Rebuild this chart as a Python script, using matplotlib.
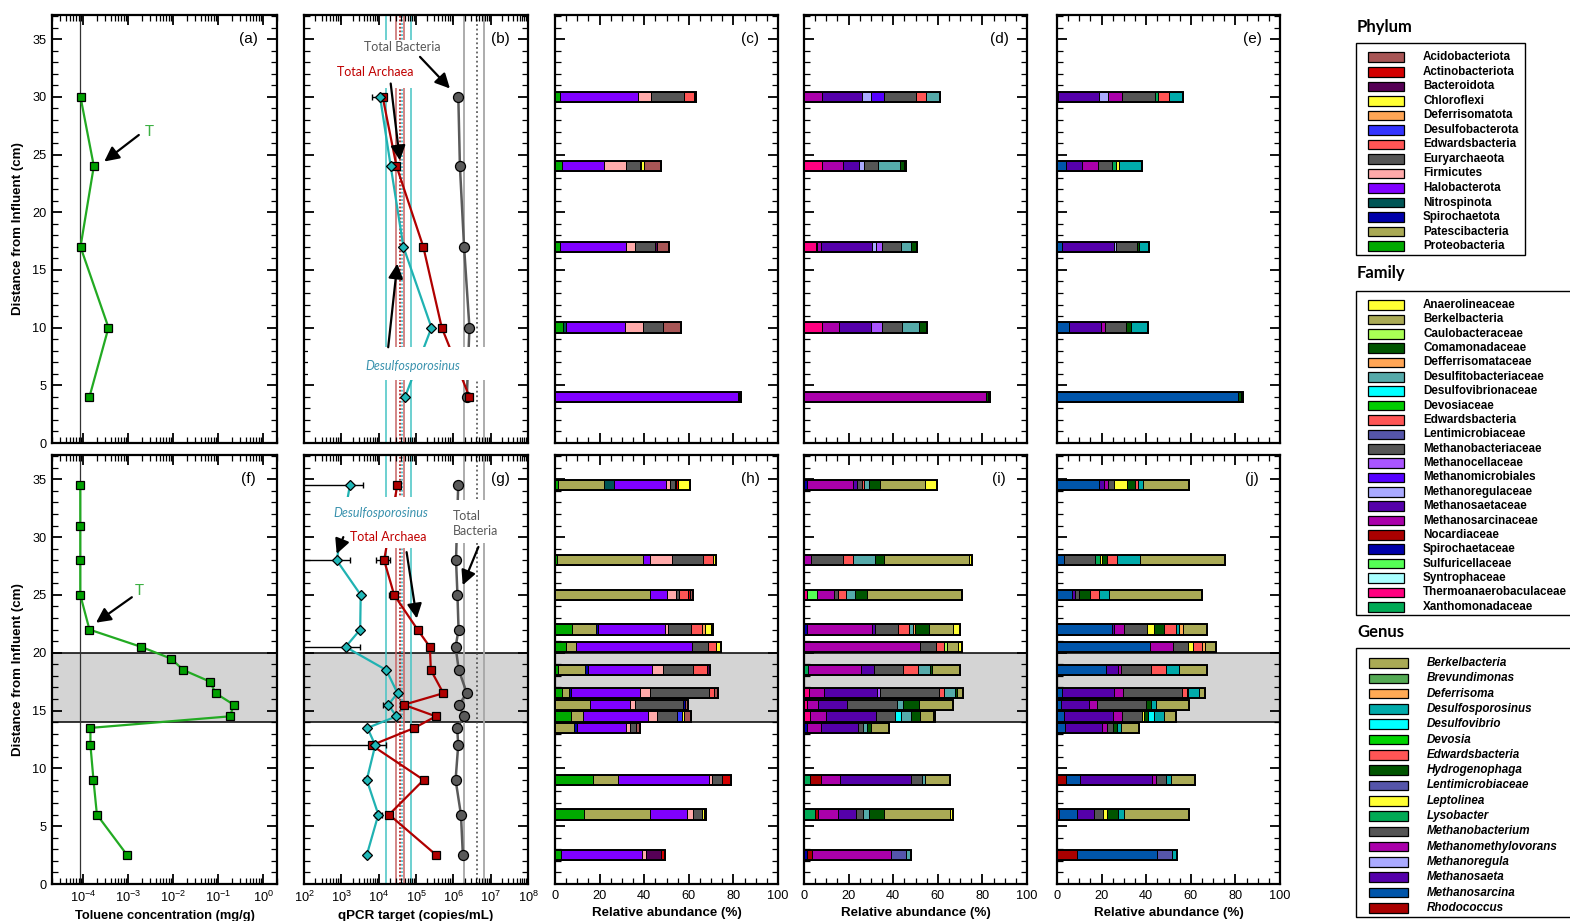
import numpy as np
import matplotlib
matplotlib.use("Agg")
import matplotlib.pyplot as plt
from matplotlib.patches import Rectangle
from matplotlib.ticker import MultipleLocator, LogLocator, NullFormatter

plt.rcParams['font.family'] = ['Liberation Sans', 'DejaVu Sans']
plt.rcParams['mathtext.default'] = 'regular'

# ---------------------------------------------------------------- data
# toluene (mg/g) profiles
tol_depth_top = [30, 24, 17, 10, 4]
tol_top = [8.6e-5, 1.7e-4, 8.6e-5, 3.6e-4, 1.36e-4]
tol_depth_bot = [34.5, 31, 28, 25, 22, 20.5, 19.5, 18.5, 17.5, 16.5, 15.5, 14.5,
                 13.5, 12, 9, 6, 2.5]
tol_bot = [8.5e-5, 8.5e-5, 8.5e-5, 8.5e-5, 1.36e-4, 1.94e-3, 8.7e-3, 1.67e-2, 6.5e-2,
           8.6e-2, 0.22, 0.18, 1.43e-4, 1.43e-4, 1.67e-4, 1.99e-4, 9.35e-4]
tol_detection = 8.5e-5

# qPCR (copies/mL)
qpcr_depth_top = [30, 24, 17, 10, 4]
bact_top = [1.36e6, 1.5e6, 1.94e6, 2.7e6, 2.3e6]
arch_top = [1.28e4, 3.0e4, 1.57e5, 4.9e5, 2.7e6]
desulf_top = [1.09e4, 2.1e4, 4.6e4, 2.6e5, 5.1e4]
desulf_err_top = [(30, 6.5e3, 1.33e4)]

qpcr_depth_bot = [34.5, 28, 25, 22, 20.5, 18.5, 16.5, 15.5, 14.5, 13.5, 12, 9, 6, 2.5]
bact_bot = [1.35e6, 1.18e6, 1.29e6, 1.38e6, 1.15e6, 1.4e6, 2.3e6, 1.4e6, 1.9e6,
            1.27e6, 1.35e6, 1.15e6, 1.6e6, 1.8e6]
arch_bot = [3.16e4, 1.4e4, 2.6e4, 1.1e5, 2.35e5, 2.5e5, 5.4e5, 4.7e4, 3.4e5, 9.1e4,
            6.5e3, 1.6e5, 1.9e4, 3.5e5]
desulf_bot = [1.7e3, 750, 3.3e3, 3.2e3, 1.3e3, 1.6e4, 3.2e4, 1.8e4, 3.0e4, 5e3,
              8.1e3, 4.8e3, 9.8e3, 4.8e3]
desulf_err_bot = [(34.5, 50, 3.7e3), (28, 50, 1.7e3), (20.5, 50, 3.2e3),
                  (15.5, 1.3e4, 2.2e4), (12, 50, 1.6e4), (9, 4.0e3, 5.6e3),
                  (6, 8.0e3, 1.2e4)]
arch_err_bot = [(28, 8.5e3, 2.0e4), (25, 1.9e4, 2.9e4), (15.5, 3.7e4, 5.6e4),
                (12, 5.5e3, 7.5e3)]

# influent reference levels (copies/mL)
desulf_ref = [1.55e4, 7.4e4]
desulf_ref_mean = 4.3e4
arch_ref = [2.9e4, 4.7e4]
arch_ref_mean = 3.7e4
bact_ref = [1.9e6, 6.6e6]
bact_ref_mean = 4.2e6

# legend taxa and colours
phylum_names = ['Acidobacteriota', 'Actinobacteriota', 'Bacteroidota', 'Chloroflexi',
                'Deferrisomatota', 'Desulfobacterota', 'Edwardsbacteria', 'Euryarchaeota',
                'Firmicutes', 'Halobacterota', 'Nitrospinota', 'Spirochaetota',
                'Patescibacteria', 'Proteobacteria']
phylum_colors = ['#A85656', '#D40000', '#550055', '#FFFF33', '#FFA555', '#3333FF',
                 '#FF5555', '#555555', '#FFAAAA', '#8000FF', '#005555', '#0000AA',
                 '#AAAA55', '#00AA00']
family_names = ['Anaerolineaceae', 'Berkelbacteria', 'Caulobacteraceae', 'Comamonadaceae',
                'Defferrisomataceae', 'Desulfitobacteriaceae', 'Desulfovibrionaceae',
                'Devosiaceae', 'Edwardsbacteria', 'Lentimicrobiaceae',
                'Methanobacteriaceae', 'Methanocellaceae', 'Methanomicrobiales',
                'Methanoregulaceae', 'Methanosaetaceae', 'Methanosarcinaceae',
                'Nocardiaceae', 'Spirochaetaceae', 'Sulfuricellaceae', 'Syntrophaceae',
                'Thermoanaerobaculaceae', 'Xanthomonadaceae']
family_colors = ['#FFFF33', '#AAAA55', '#AAFF55', '#005500', '#FFA555', '#55AAAA',
                 '#00FFFF', '#00CC00', '#FF5555', '#5555AA', '#555555', '#AA55FF',
                 '#5500FF', '#AAAAFF', '#5500AA', '#AA00AA', '#AA0000', '#0000AA',
                 '#55FF55', '#AAFFFF', '#FF0080', '#00AA55']
genus_names = ['Berkelbacteria', 'Brevundimonas', 'Deferrisoma', 'Desulfosporosinus',
               'Desulfovibrio', 'Devosia', 'Edwardsbacteria', 'Hydrogenophaga',
               'Lentimicrobiaceae', 'Leptolinea', 'Lysobacter', 'Methanobacterium',
               'Methanomethylovorans', 'Methanoregula', 'Methanosaeta', 'Methanosarcina',
               'Rhodococcus']
genus_colors = ['#AAAA55', '#55AA55', '#FFAA55', '#00AAAA', '#00FFFF', '#00D400',
                '#FF5555', '#005500', '#5555AA', '#FFFF33', '#00AA55', '#555555',
                '#AA00AA', '#AAAAFF', '#5500AA', '#0055AA', '#AA0000']

# relative abundance (%) per depth, stacked left to right
phylum_top = {
    30: [('Proteobacteria', 2.2), ('Halobacterota', 34.8), ('Firmicutes', 6.0),
         ('Euryarchaeota', 15.0), ('Edwardsbacteria', 4.5), ('Acidobacteriota', 0.7)],
    24: [('Proteobacteria', 3.3), ('Halobacterota', 18.7), ('Firmicutes', 9.9),
         ('Euryarchaeota', 6.3), ('Bacteroidota', 0.3), ('Chloroflexi', 1.4),
         ('Acidobacteriota', 7.8)],
    17: [('Proteobacteria', 2.2), ('Halobacterota', 29.6), ('Firmicutes', 4.2),
         ('Euryarchaeota', 9.0), ('Bacteroidota', 0.9), ('Acidobacteriota', 5.2)],
    10: [('Proteobacteria', 3.7), ('Nitrospinota', 1.2), ('Halobacterota', 26.6),
         ('Firmicutes', 7.9), ('Euryarchaeota', 9.1), ('Acidobacteriota', 8.2)],
    4: [('Halobacterota', 81.9), ('Acidobacteriota', 0.7), ('Bacteroidota', 0.7)],
}
family_top = {
    30: [('Methanosarcinaceae', 8.1), ('Methanosaetaceae', 18.1), ('Methanoregulaceae', 4.0),
         ('Methanomicrobiales', 5.5), ('Methanobacteriaceae', 14.6), ('Edwardsbacteria', 4.6),
         ('Desulfitobacteriaceae', 6.0)],
    24: [('Thermoanaerobaculaceae', 8.1), ('Methanosarcinaceae', 9.3), ('Methanosaetaceae', 7.2),
         ('Methanoregulaceae', 2.4), ('Methanobacteriaceae', 6.3),
         ('Desulfitobacteriaceae', 9.9), ('Comamonadaceae', 1.5), ('Anaerolineaceae', 1.2)],
    17: [('Thermoanaerobaculaceae', 5.2), ('Nocardiaceae', 0.7), ('Methanosarcinaceae', 1.5),
         ('Methanosaetaceae', 23.2), ('Methanoregulaceae', 1.6), ('Methanocellaceae', 2.7),
         ('Methanobacteriaceae', 8.8), ('Desulfitobacteriaceae', 4.5), ('Comamonadaceae', 2.5)],
    10: [('Thermoanaerobaculaceae', 8.1), ('Methanosarcinaceae', 7.6), ('Methanosaetaceae', 14.2),
         ('Methanocellaceae', 4.9), ('Methanobacteriaceae', 9.0),
         ('Desulfitobacteriaceae', 7.9), ('Comamonadaceae', 3.6)],
    4: [('Methanosarcinaceae', 81.5), ('Comamonadaceae', 0.9), ('Desulfitobacteriaceae', 1.0)],
}
genus_top = {
    30: [('Methanosarcina', 0.6), ('Methanosaeta', 18.4), ('Methanoregula', 3.9),
         ('Methanomethylovorans', 6.3), ('Methanobacterium', 14.8), ('Lysobacter', 1.5),
         ('Edwardsbacteria', 4.8), ('Desulfosporosinus', 6.0)],
    24: [('Methanosarcina', 4.0), ('Methanosaeta', 7.3), ('Methanomethylovorans', 7.2),
         ('Methanobacterium', 6.3), ('Lysobacter', 1.8), ('Leptolinea', 1.3),
         ('Desulfosporosinus', 10.0)],
    17: [('Methanosarcina', 2.1), ('Methanosaeta', 23.3), ('Methanoregula', 1.2),
         ('Methanobacterium', 9.1), ('Hydrogenophaga', 1.2), ('Desulfosporosinus', 4.3)],
    10: [('Methanosarcina', 5.4), ('Methanosaeta', 14.3), ('Methanomethylovorans', 1.9),
         ('Methanobacterium', 9.3), ('Hydrogenophaga', 2.1), ('Desulfosporosinus', 7.9)],
    4: [('Methanosarcina', 81.3), ('Hydrogenophaga', 1.2), ('Desulfosporosinus', 0.7)],
}
phylum_bot = {
    34.5: [('Proteobacteria', 1.5), ('Patescibacteria', 20.6), ('Nitrospinota', 4.5),
           ('Halobacterota', 23.0), ('Firmicutes', 1.9), ('Euryarchaeota', 2.1),
           ('Edwardsbacteria', 0.7), ('Actinobacteriota', 0.9), ('Chloroflexi', 5.2)],
    28: [('Proteobacteria', 1.0), ('Patescibacteria', 38.3), ('Halobacterota', 3.3),
         ('Firmicutes', 9.7), ('Euryarchaeota', 14.2), ('Edwardsbacteria', 4.5),
         ('Chloroflexi', 1.0)],
    25: [('Patescibacteria', 42.6), ('Halobacterota', 7.8), ('Firmicutes', 3.9),
         ('Euryarchaeota', 1.5), ('Edwardsbacteria', 3.9), ('Actinobacteriota', 0.9),
         ('Acidobacteriota', 1.2)],
    22: [('Proteobacteria', 7.5), ('Patescibacteria', 10.9), ('Spirochaetota', 1.0),
         ('Halobacterota', 29.9), ('Firmicutes', 1.3), ('Euryarchaeota', 10.5),
         ('Edwardsbacteria', 4.9), ('Deferrisomatota', 1.3), ('Chloroflexi', 2.7),
         ('Acidobacteriota', 0.9)],
    20.5: [('Proteobacteria', 4.8), ('Patescibacteria', 4.6), ('Halobacterota', 52.2),
           ('Euryarchaeota', 6.9), ('Edwardsbacteria', 3.7), ('Chloroflexi', 2.2)],
    18.5: [('Proteobacteria', 1.5), ('Patescibacteria', 12.0), ('Spirochaetota', 1.5),
           ('Halobacterota', 28.7), ('Firmicutes', 4.9), ('Euryarchaeota', 13.5),
           ('Edwardsbacteria', 6.0), ('Bacteroidota', 1.5)],
    16.5: [('Proteobacteria', 3.3), ('Patescibacteria', 3.0), ('Spirochaetota', 0.9),
           ('Halobacterota', 30.9), ('Firmicutes', 4.5), ('Euryarchaeota', 26.5),
           ('Edwardsbacteria', 2.1), ('Acidobacteriota', 2.1)],
    15.5: [('Patescibacteria', 15.7), ('Halobacterota', 17.9), ('Firmicutes', 2.1),
           ('Euryarchaeota', 21.8), ('Spirochaetota', 0.9), ('Acidobacteriota', 1.2)],
    14.5: [('Proteobacteria', 7.0), ('Patescibacteria', 5.7), ('Halobacterota', 29.0),
           ('Firmicutes', 4.2), ('Euryarchaeota', 8.7), ('Desulfobacterota', 2.5),
           ('Chloroflexi', 0.9), ('Acidobacteriota', 3.1)],
    13.5: [('Patescibacteria', 8.5), ('Spirochaetota', 1.2), ('Halobacterota', 22.3),
           ('Firmicutes', 1.6), ('Euryarchaeota', 2.7), ('Acidobacteriota', 1.8)],
    9: [('Proteobacteria', 16.9), ('Patescibacteria', 11.4), ('Halobacterota', 40.7),
        ('Firmicutes', 1.5), ('Euryarchaeota', 4.5), ('Actinobacteriota', 4.0)],
    6: [('Proteobacteria', 13.0), ('Patescibacteria', 29.6), ('Halobacterota', 16.7),
        ('Firmicutes', 2.7), ('Euryarchaeota', 3.7), ('Chloroflexi', 1.0),
        ('Acidobacteriota', 1.0)],
    2.5: [('Proteobacteria', 2.7), ('Halobacterota', 36.2), ('Firmicutes', 1.9),
          ('Bacteroidota', 6.9), ('Actinobacteriota', 1.6)],
}
family_bot = {
    34.5: [('Spirochaetaceae', 1.2), ('Methanosarcinaceae', 20.9), ('Methanosaetaceae', 1.8),
           ('Methanobacteriaceae', 2.1), ('Edwardsbacteria', 0.7),
           ('Desulfitobacteriaceae', 2.4), ('Comamonadaceae', 4.9), ('Berkelbacteria', 20.3),
           ('Anaerolineaceae', 5.4)],
    28: [('Methanosarcinaceae', 3.1), ('Methanobacteriaceae', 14.2), ('Edwardsbacteria', 4.8),
         ('Desulfitobacteriaceae', 9.6), ('Comamonadaceae', 4.2), ('Berkelbacteria', 38.3),
         ('Anaerolineaceae', 1.0)],
    25: [('Thermoanaerobaculaceae', 1.2), ('Sulfuricellaceae', 4.5), ('Methanosarcinaceae', 7.9),
         ('Methanobacteriaceae', 1.5), ('Edwardsbacteria', 3.7), ('Desulfitobacteriaceae', 4.0),
         ('Comamonadaceae', 5.5), ('Berkelbacteria', 42.3), ('Anaerolineaceae', 0.4)],
    22: [('Spirochaetaceae', 1.5), ('Methanosarcinaceae', 28.8), ('Methanosaetaceae', 1.5),
         ('Methanobacteriaceae', 10.3), ('Edwardsbacteria', 5.1),
         ('Desulfitobacteriaceae', 1.6), ('Defferrisomataceae', 1.0), ('Comamonadaceae', 6.1),
         ('Berkelbacteria', 10.9), ('Anaerolineaceae', 3.3)],
    20.5: [('Methanosarcinaceae', 52.0), ('Methanobacteriaceae', 7.2), ('Edwardsbacteria', 3.7),
           ('Caulobacteraceae', 1.2), ('Berkelbacteria', 4.9), ('Anaerolineaceae', 1.8)],
    18.5: [('Xanthomonadaceae', 1.8), ('Methanosarcinaceae', 23.8), ('Methanosaetaceae', 5.8),
           ('Methanobacteriaceae', 13.2), ('Edwardsbacteria', 6.3),
           ('Desulfitobacteriaceae', 5.7), ('Comamonadaceae', 1.0), ('Berkelbacteria', 12.4)],
    16.5: [('Thermoanaerobaculaceae', 2.4), ('Methanosarcinaceae', 6.6),
           ('Methanosaetaceae', 23.6), ('Methanocellaceae', 1.5), ('Methanobacteriaceae', 26.6),
           ('Edwardsbacteria', 2.1), ('Desulfitobacteriaceae', 4.8), ('Comamonadaceae', 0.9),
           ('Berkelbacteria', 3.0)],
    15.5: [('Thermoanaerobaculaceae', 1.2), ('Methanosarcinaceae', 5.2),
           ('Methanosaetaceae', 13.0), ('Methanobacteriaceae', 22.1),
           ('Desulfitobacteriaceae', 2.7), ('Comamonadaceae', 7.3), ('Berkelbacteria', 15.4)],
    14.5: [('Thermoanaerobaculaceae', 2.7), ('Methanosarcinaceae', 7.0),
           ('Methanosaetaceae', 22.6), ('Methanobacteriaceae', 8.7),
           ('Desulfovibrionaceae', 2.5), ('Desulfitobacteriaceae', 4.5), ('Comamonadaceae', 4.2),
           ('Berkelbacteria', 5.8), ('Anaerolineaceae', 0.9)],
    13.5: [('Spirochaetaceae', 1.5), ('Methanosarcinaceae', 6.0), ('Methanosaetaceae', 16.6),
           ('Methanobacteriaceae', 2.5), ('Desulfitobacteriaceae', 1.8), ('Comamonadaceae', 1.5),
           ('Berkelbacteria', 8.1)],
    9: [('Xanthomonadaceae', 2.7), ('Nocardiaceae', 4.8), ('Methanosarcinaceae', 8.7),
        ('Methanosaetaceae', 32.0), ('Methanobacteriaceae', 4.6),
        ('Desulfitobacteriaceae', 1.6), ('Berkelbacteria', 11.1)],
    6: [('Xanthomonadaceae', 4.9), ('Nocardiaceae', 1.5), ('Methanosarcinaceae', 8.7),
        ('Methanosaetaceae', 8.1), ('Methanobacteriaceae', 3.4), ('Desulfitobacteriaceae', 2.7),
        ('Comamonadaceae', 6.7), ('Berkelbacteria', 29.4), ('Anaerolineaceae', 1.2)],
    2.5: [('Spirochaetaceae', 1.5), ('Nocardiaceae', 1.9), ('Methanosarcinaceae', 35.4),
          ('Lentimicrobiaceae', 6.9), ('Desulfitobacteriaceae', 2.2)],
}
genus_bot = {
    34.5: [('Methanosarcina', 19.0), ('Methanosaeta', 2.1), ('Methanomethylovorans', 1.9),
           ('Methanobacterium', 2.7), ('Leptolinea', 5.5), ('Hydrogenophaga', 4.0),
           ('Edwardsbacteria', 1.2), ('Desulfosporosinus', 2.2), ('Berkelbacteria', 20.5)],
    28: [('Methanosarcina', 3.1), ('Methanobacterium', 13.9), ('Lysobacter', 2.2),
         ('Leptolinea', 1.0), ('Hydrogenophaga', 2.4), ('Edwardsbacteria', 4.5),
         ('Desulfosporosinus', 10.0), ('Berkelbacteria', 38.4)],
    25: [('Methanosarcina', 6.7), ('Methanosaeta', 1.3), ('Methanobacterium', 1.9),
         ('Hydrogenophaga', 5.1), ('Edwardsbacteria', 3.9), ('Desulfosporosinus', 4.2),
         ('Berkelbacteria', 42.0)],
    22: [('Methanosarcina', 24.5), ('Methanosaeta', 1.2), ('Methanomethylovorans', 4.3),
         ('Methanobacterium', 10.2), ('Leptolinea', 3.3), ('Hydrogenophaga', 4.6),
         ('Edwardsbacteria', 5.2), ('Desulfosporosinus', 1.5), ('Deferrisoma', 1.5),
         ('Berkelbacteria', 10.8)],
    20.5: [('Methanosarcina', 41.7), ('Methanomethylovorans', 10.2), ('Methanobacterium', 7.0),
           ('Leptolinea', 2.2), ('Edwardsbacteria', 4.0), ('Deferrisoma', 1.2),
           ('Berkelbacteria', 4.8)],
    18.5: [('Methanosarcina', 22.0), ('Methanosaeta', 5.5), ('Methanomethylovorans', 1.2),
           ('Methanobacterium', 13.3), ('Edwardsbacteria', 6.9), ('Desulfosporosinus', 6.0),
           ('Berkelbacteria', 12.3)],
    16.5: [('Methanosarcina', 2.1), ('Methanosaeta', 23.5), ('Methanomethylovorans', 3.9),
           ('Methanobacterium', 26.5), ('Edwardsbacteria', 2.2), ('Rhodococcus', 0.4),
           ('Desulfosporosinus', 4.9), ('Berkelbacteria', 2.8)],
    15.5: [('Methanosarcina', 1.8), ('Methanosaeta', 12.6), ('Methanomethylovorans', 3.4),
           ('Methanobacterium', 22.1), ('Hydrogenophaga', 2.1), ('Desulfosporosinus', 2.2),
           ('Berkelbacteria', 15.2)],
    14.5: [('Methanosarcina', 3.1), ('Methanosaeta', 22.1), ('Methanomethylovorans', 4.0),
           ('Methanobacterium', 8.7), ('Leptolinea', 1.0), ('Hydrogenophaga', 1.9),
           ('Desulfovibrio', 2.5), ('Desulfosporosinus', 4.5), ('Berkelbacteria', 5.4)],
    13.5: [('Methanosarcina', 3.6), ('Methanosaeta', 16.7), ('Methanomethylovorans', 2.2),
           ('Methanobacterium', 2.4), ('Hydrogenophaga', 1.8), ('Desulfosporosinus', 2.2),
           ('Berkelbacteria', 7.8)],
    9: [('Rhodococcus', 4.0), ('Methanosarcina', 6.4), ('Methanosaeta', 32.0),
        ('Methanomethylovorans', 2.2), ('Methanobacterium', 4.5), ('Desulfosporosinus', 1.8),
        ('Berkelbacteria', 11.2)],
    6: [('Rhodococcus', 1.0), ('Methanosarcina', 7.8), ('Methanosaeta', 7.9),
        ('Methanobacterium', 4.0), ('Leptolinea', 1.5), ('Hydrogenophaga', 5.2),
        ('Desulfosporosinus', 2.5), ('Berkelbacteria', 29.4)],
    2.5: [('Rhodococcus', 9.1), ('Methanosarcina', 35.6), ('Lentimicrobiaceae', 7.0),
          ('Desulfosporosinus', 2.2)],
}

# toluene-amended zone of the lower column (cm)
zone = (14, 20)

# ---------------------------------------------------------------- layout
W, H = 1570, 921
fig = plt.figure(figsize=(W / 100, H / 100), dpi=100)


def add_ax(x0, x1, y0, y1):
    return fig.add_axes([x0 / W, 1 - y1 / H, (x1 - x0) / W, (y1 - y0) / H])


cols = [(52, 277), (304, 528), (555, 778), (804, 1027), (1057, 1280)]
rows = [(15, 443), (455, 884)]
YMAX = 37.1
TICKFS = 9.2
panel_tags = [['(a)', '(b)', '(c)', '(d)', '(e)'], ['(f)', '(g)', '(h)', '(i)', '(j)']]


def style_axis(ax, row, col):
    ax.set_ylim(0, YMAX)
    ax.yaxis.set_major_locator(MultipleLocator(5))
    ax.yaxis.set_minor_locator(MultipleLocator(1))
    for s in ax.spines.values():
        s.set_linewidth(1.6)
    ax.tick_params(which='both', direction='in', top=True, right=True,
                   labelsize=TICKFS, pad=4)
    ax.tick_params(which='major', length=7, width=1.3)
    ax.tick_params(which='minor', length=4, width=0.9)
    if col != 0:
        ax.tick_params(labelleft=False)
    if row == 0:
        ax.tick_params(labelbottom=False)
    ax.text(0.875, 0.944, panel_tags[row][col], transform=ax.transAxes,
            ha='center', va='center', fontsize=11, zorder=10)


def log_ticks(ax, lo, hi):
    ax.xaxis.set_major_locator(plt.FixedLocator([10.0 ** p for p in range(lo, hi + 1)]))
    ax.xaxis.set_minor_locator(LogLocator(base=10, subs=np.arange(2, 10), numticks=20))
    ax.xaxis.set_minor_formatter(NullFormatter())


def shade_zone(ax):
    ax.axhspan(zone[0], zone[1], color='#D4D4D4', zorder=0, lw=0)
    for yv in zone:
        ax.axhline(yv, color='black', lw=1.1, zorder=0.5)


def white_box(ax, x0, x1, y0, y1):
    ax.add_patch(Rectangle((x0, y0), x1 - x0, y1 - y0, facecolor='white',
                           edgecolor='none', zorder=4))


arrow_kw = dict(arrowstyle='-|>', color='black', lw=1.6, mutation_scale=22,
                shrinkA=0, shrinkB=0)
label_font = ['Lato', 'DejaVu Sans']

# ---------------------------------------------------------------- toluene panels
for row in range(2):
    ax = add_ax(*cols[0], *rows[row])
    ax.set_xscale('log')
    ax.set_xlim(2e-5, 2)
    log_ticks(ax, -4, 0)
    style_axis(ax, row, 0)
    ax.set_ylabel('Distance from Influent (cm)', fontsize=9.6, fontweight='bold', labelpad=6)
    ax.axvline(tol_detection, color='#333333', lw=0.9, zorder=1)
    if row == 0:
        ax.plot(tol_top, tol_depth_top, color='#22AA22', lw=1.6, marker='s', ms=5.2,
                mfc='#00A000', mec='black', mew=0.9, zorder=3)
        ax.text(2.9e-3, 27.0, 'T', color='#3CB043', fontsize=11, ha='center', va='center',
                family=label_font)
        ax.annotate('', xy=(2.9e-4, 24.4), xytext=(1.7e-3, 26.7), arrowprops=arrow_kw)
    else:
        shade_zone(ax)
        ax.plot(tol_bot, tol_depth_bot, color='#22AA22', lw=1.6, marker='s', ms=5.2,
                mfc='#00A000', mec='black', mew=0.9, zorder=3)
        ax.text(1.75e-3, 25.3, 'T', color='#3CB043', fontsize=11, ha='center', va='center',
                family=label_font)
        ax.annotate('', xy=(1.9e-4, 22.6), xytext=(1.19e-3, 24.8), arrowprops=arrow_kw)
        ax.set_xlabel('Toluene concentration (mg/g)', fontsize=9.3, fontweight='bold',
                      labelpad=4)

# ---------------------------------------------------------------- qPCR panels
for row in range(2):
    ax = add_ax(*cols[1], *rows[row])
    ax.set_xscale('log')
    ax.set_xlim(1e2, 1e8)
    log_ticks(ax, 2, 8)
    style_axis(ax, row, 1)
    if row == 1:
        shade_zone(ax)
        ax.set_xlabel('qPCR target (copies/mL)', fontsize=9.6, fontweight='bold', labelpad=4)

    for v in desulf_ref:
        ax.axvline(v, color='#45C4C4', lw=1.1, zorder=1)
    ax.axvline(desulf_ref_mean, color='#2BB0C0', lw=1.1, ls=(0, (1.2, 1.2)), zorder=1)
    for v in arch_ref:
        ax.axvline(v, color='#C86464', lw=1.1, zorder=1)
    ax.axvline(arch_ref_mean, color='#B00000', lw=1.1, ls=(0, (1.2, 1.2)), zorder=1)
    for v in bact_ref:
        ax.axvline(v, color='#A6A6A6', lw=1.3, zorder=1)
    ax.axvline(bact_ref_mean, color='#444444', lw=1.1, ls=(0, (1.2, 1.8)), zorder=1)

    if row == 0:
        depth, bact, arch, des = qpcr_depth_top, bact_top, arch_top, desulf_top
        d_err, a_err = desulf_err_top, []
    else:
        depth, bact, arch, des = qpcr_depth_bot, bact_bot, arch_bot, desulf_bot
        d_err, a_err = desulf_err_bot, arch_err_bot

    ax.plot(bact, depth, color='#5A5A5A', lw=1.8, zorder=3)
    ax.plot(arch, depth, color='#B00000', lw=1.6, zorder=3)
    ax.plot(des, depth, color='#20B2B2', lw=1.6, zorder=3)

    for errs, vals in ((a_err, arch), (d_err, des)):
        for (dy, lo, hi) in errs:
            xv = vals[depth.index(dy)]
            ax.errorbar([xv], [dy], xerr=[[xv - lo], [hi - xv]], fmt='none',
                        ecolor='black', elinewidth=1.0, capsize=2.5, capthick=1.0,
                        zorder=3.2)

    ax.plot(bact, depth, ls='none', marker='o', ms=7.2, mfc='#5A5A5A', mec='black',
            mew=0.9, zorder=3.5)
    ax.plot(arch, depth, ls='none', marker='s', ms=5.6, mfc='#B00000', mec='black',
            mew=0.9, zorder=3.5)
    ax.plot(des, depth, ls='none', marker='D', ms=5.6, mfc='#20B8B8', mec='black',
            mew=0.9, zorder=3.6)

    if row == 0:
        white_box(ax, 7.3e2, 6e5, 30.8, 34.9)
        ax.axhspan(5.45, 8.35, xmin=0.02, xmax=0.98, color='white', zorder=4, lw=0)
        ax.text(4.4e4, 34.33, 'Total Bacteria', color='#595959', fontsize=9,
                ha='center', va='center', family=label_font, zorder=5)
        ax.annotate('', xy=(8.1e5, 30.73), xytext=(1.28e5, 33.47), arrowprops=arrow_kw,
                    zorder=5)
        ax.text(8.0e3, 32.2, 'Total Archaea', color='#C00000', fontsize=9,
                ha='center', va='center', family=label_font, zorder=5)
        ax.annotate('', xy=(3.7e4, 24.5), xytext=(2.1e4, 31.16), arrowprops=arrow_kw,
                    zorder=5)
        ax.text(8.1e4, 6.65, 'Desulfosporosinus', color='#3A92AE', fontsize=9,
                style='italic', ha='center', va='center', family=label_font, zorder=5)
        ax.annotate('', xy=(3.16e4, 15.55), xytext=(1.8e4, 8.3), arrowprops=arrow_kw,
                    zorder=5)
    else:
        white_box(ax, 3.6e2, 2.7e5, 29.04, 33.45)
        white_box(ax, 7.2e5, 1.8e7, 29.47, 33.19)
        ax.text(1.17e4, 32.09, 'Desulfosporosinus', color='#3A92AE', fontsize=9,
                style='italic', ha='center', va='center', family=label_font, zorder=5)
        ax.annotate('', xy=(7.5e2, 28.55), xytext=(1.13e3, 30.0), arrowprops=arrow_kw,
                    zorder=5)
        ax.text(1.8e4, 30.0, 'Total Archaea', color='#C00000', fontsize=9,
                ha='center', va='center', family=label_font, zorder=5)
        ax.annotate('', xy=(1.05e5, 22.96), xytext=(5.6e4, 28.7), arrowprops=arrow_kw,
                    zorder=5)
        ax.text(1.0e6, 31.16, 'Total\nBacteria', color='#595959', fontsize=9,
                ha='left', va='center', family=label_font, linespacing=1.35, zorder=5)
        ax.annotate('', xy=(1.78e6, 25.84), xytext=(4.7e6, 29.15), arrowprops=arrow_kw,
                    zorder=5)

# ---------------------------------------------------------------- abundance panels
level_colors = [dict(zip(phylum_names, phylum_colors)),
                dict(zip(family_names, family_colors)),
                dict(zip(genus_names, genus_colors))]
bar_data = [[phylum_top, family_top, genus_top], [phylum_bot, family_bot, genus_bot]]
BAR_H = 0.9

for row in range(2):
    for k in range(3):
        ax = add_ax(*cols[2 + k], *rows[row])
        ax.set_xlim(0, 100)
        ax.xaxis.set_major_locator(MultipleLocator(20))
        ax.xaxis.set_minor_locator(MultipleLocator(5))
        style_axis(ax, row, 2 + k)
        if row == 1:
            shade_zone(ax)
            ax.set_xlabel('Relative abundance (%)', fontsize=9.6, fontweight='bold',
                          labelpad=4)
        cmap = level_colors[k]
        for depth, segs in bar_data[row][k].items():
            left = 0.0
            for taxon, val in segs:
                ax.barh(depth, val, left=left, height=BAR_H, color=cmap[taxon],
                        edgecolor='black', linewidth=0.7, zorder=3)
                left += val
            ax.barh(depth, left, height=BAR_H, facecolor='none', edgecolor='black',
                    linewidth=1.4, zorder=3.5)

# ---------------------------------------------------------------- legends
lax = fig.add_axes([0, 0, 1, 1])
lax.set_xlim(0, W)
lax.set_ylim(H, 0)
lax.axis('off')

legend_specs = [
    ('Phylum', 27, phylum_names, phylum_colors, 57.3, 14.52, (43, 255), 1525, 1368, 36, 1423, 'normal'),
    ('Family', 273, family_names, family_colors, 305.0, 14.37, (291, 615), 1575, 1368, 36, 1423, 'normal'),
    ('Genus', 632, genus_names, genus_colors, 663.0, 15.3, (648, 917), 1575, 1369, 39, 1427, 'italic'),
]
for title, ty, names, colors, y0, dy, (by0, by1), bx1, px, pw, tx, fstyle in legend_specs:
    lax.text(1357, ty, title, fontsize=12, fontweight='bold', ha='left', va='center',
             family=label_font)
    lax.add_patch(Rectangle((1356, by0), bx1 - 1356, by1 - by0, facecolor='white',
                            edgecolor='black', lw=1.0))
    for i, (name, c) in enumerate(zip(names, colors)):
        yy = y0 + i * dy
        lax.add_patch(Rectangle((px, yy - 4.8), pw, 9.6, facecolor=c, edgecolor='black',
                                lw=0.9))
        lax.text(tx, yy, name, fontsize=8.4, fontweight='bold', style=fstyle,
                 ha='left', va='center')

fig.savefig('out.png', dpi=100)
